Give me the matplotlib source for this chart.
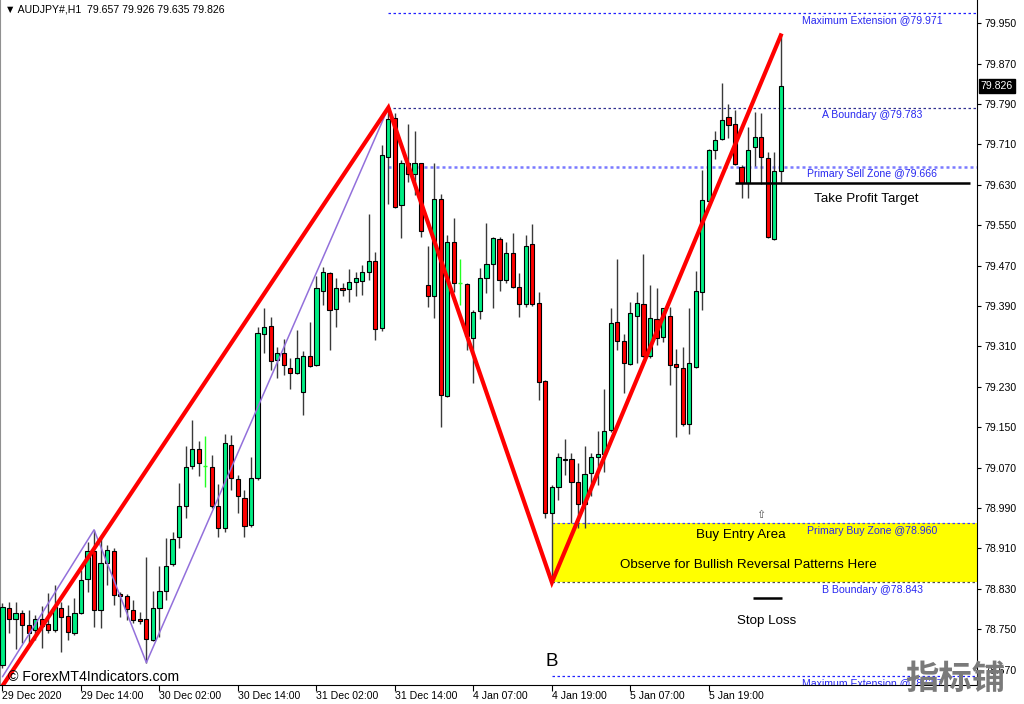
import matplotlib
matplotlib.use("Agg")
import matplotlib.pyplot as plt
from matplotlib.patches import Rectangle
import numpy as np

# ---- AUDJPY H1 candles (index = bar number) ----
opens = [78.679, 78.793, 78.771, 78.783, 78.758, 78.749, 78.771, 78.760, 78.749, 78.793,
         78.776, 78.742, 78.783, 78.849, 78.906, 78.788, 78.881, 78.905, 78.820, 78.816,
         78.788, 78.770, 78.770, 78.729, 78.792, 78.826, 78.879, 78.932, 78.994, 79.073,
         79.108, 79.073, 79.071, 78.994, 78.950, 79.115, 79.047, 79.009, 78.957, 79.049,
         79.335, 79.351, 79.283, 79.297, 79.268, 79.257, 79.219, 79.292, 79.273, 79.420,
         79.456, 79.384, 79.425, 79.423, 79.438, 79.440, 79.457, 79.480, 79.346, 79.685,
         79.762, 79.590, 79.674, 79.652, 79.673, 79.432, 79.410, 79.603, 79.212, 79.516,
         79.436, 79.434, 79.326, 79.380, 79.445, 79.473, 79.522, 79.442, 79.496, 79.427,
         79.394, 79.512, 79.396, 79.242, 78.980, 79.031, 79.086, 79.087, 79.042, 78.998,
         79.059, 79.092, 79.098, 79.145, 79.358, 79.321, 79.275, 79.371, 79.394, 79.291,
         79.364, 79.329, 79.370, 79.275, 79.267, 79.157, 79.270, 79.418, 79.599, 79.699,
         79.720, 79.765, 79.750, 79.665, 79.634, 79.706, 79.724, 79.683, 79.522, 79.657]
highs = [78.802, 78.805, 78.804, 78.789, 78.789, 78.778, 78.796, 78.822, 78.838, 78.805,
         78.798, 78.811, 78.867, 78.923, 78.947, 78.937, 78.917, 78.911, 78.824, 78.820,
         78.808, 78.785, 78.893, 78.826, 78.875, 78.930, 78.943, 79.039, 79.112, 79.164,
         79.123, 79.133, 79.095, 79.038, 79.137, 79.135, 79.056, 79.026, 79.092, 79.349,
         79.386, 79.368, 79.308, 79.324, 79.287, 79.343, 79.302, 79.359, 79.450, 79.468,
         79.458, 79.446, 79.436, 79.463, 79.457, 79.471, 79.572, 79.497, 79.709, 79.783,
         79.772, 79.679, 79.751, 79.737, 79.674, 79.509, 79.673, 79.611, 79.531, 79.564,
         79.483, 79.436, 79.382, 79.466, 79.554, 79.527, 79.527, 79.516, 79.534, 79.456,
         79.531, 79.552, 79.418, 79.244, 79.036, 79.100, 79.126, 79.099, 79.080, 79.112,
         79.099, 79.143, 79.225, 79.386, 79.483, 79.335, 79.399, 79.417, 79.493, 79.432,
         79.425, 79.387, 79.389, 79.306, 79.308, 79.386, 79.460, 79.659, 79.702, 79.737,
         79.831, 79.790, 79.778, 79.669, 79.745, 79.775, 79.772, 79.696, 79.696, 79.926]
lows = [78.673, 78.743, 78.710, 78.722, 78.723, 78.729, 78.713, 78.743, 78.745, 78.706,
        78.729, 78.739, 78.780, 78.824, 78.755, 78.752, 78.838, 78.798, 78.775, 78.768,
        78.762, 78.760, 78.684, 78.726, 78.735, 78.808, 78.875, 78.910, 78.970, 79.067,
        79.054, 79.032, 78.990, 78.933, 78.943, 79.026, 78.981, 78.933, 78.952, 79.046,
        79.297, 79.263, 79.247, 79.254, 79.225, 79.256, 79.174, 79.270, 79.272, 79.392,
        79.304, 79.349, 79.409, 79.399, 79.410, 79.412, 79.442, 79.323, 79.341, 79.592,
        79.584, 79.524, 79.636, 79.610, 79.527, 79.388, 79.366, 79.151, 79.210, 79.418,
        79.392, 79.303, 79.237, 79.364, 79.415, 79.386, 79.420, 79.436, 79.425, 79.369,
        79.388, 79.390, 79.204, 78.970, 78.843, 79.006, 79.056, 78.960, 78.951, 78.950,
        79.013, 79.036, 79.062, 79.141, 79.304, 79.217, 79.273, 79.277, 79.289, 79.287,
        79.313, 79.319, 79.234, 79.131, 79.153, 79.137, 79.267, 79.382, 79.597, 79.681,
        79.719, 79.722, 79.669, 79.605, 79.605, 79.667, 79.632, 79.525, 79.521, 79.635]
closes = [78.794, 78.771, 78.783, 78.758, 78.742, 78.771, 78.757, 78.749, 78.794, 78.775,
          78.744, 78.783, 78.848, 78.906, 78.788, 78.881, 78.907, 78.818, 78.816, 78.790,
          78.768, 78.766, 78.730, 78.793, 78.826, 78.876, 78.928, 78.994, 79.072, 79.108,
          79.079, 79.073, 78.994, 78.950, 79.118, 79.049, 79.013, 78.955, 79.049, 79.337,
          79.349, 79.281, 79.297, 79.273, 79.258, 79.287, 79.292, 79.272, 79.425, 79.458,
          79.382, 79.425, 79.422, 79.438, 79.445, 79.458, 79.480, 79.344, 79.689, 79.760,
          79.587, 79.673, 79.652, 79.673, 79.539, 79.410, 79.603, 79.214, 79.516, 79.436,
          79.436, 79.331, 79.378, 79.445, 79.473, 79.524, 79.442, 79.495, 79.428, 79.394,
          79.508, 79.394, 79.240, 78.980, 79.031, 79.092, 79.088, 79.042, 78.998, 79.058,
          79.091, 79.098, 79.143, 79.356, 79.321, 79.277, 79.376, 79.397, 79.291, 79.367,
          79.326, 79.386, 79.273, 79.270, 79.157, 79.277, 79.420, 79.600, 79.699, 79.719,
          79.758, 79.749, 79.671, 79.634, 79.700, 79.725, 79.686, 79.526, 79.658, 79.826]

time_ticks = [0, 12, 24, 36, 48, 60, 72, 84, 96, 108]
time_labels = ["29 Dec 2020", "29 Dec 14:00", "30 Dec 02:00", "30 Dec 14:00",
               "31 Dec 02:00", "31 Dec 14:00", "4 Jan 07:00", "4 Jan 19:00",
               "5 Jan 07:00", "5 Jan 19:00"]
price_ticks = [78.670, 78.750, 78.830, 78.910, 78.990, 79.070, 79.150, 79.230,
               79.310, 79.390, 79.470, 79.550, 79.630, 79.710, 79.790, 79.870, 79.950]

# XAB swing legs
main_leg_x = [0, 59, 84, 119]
main_leg_y = [78.638, 79.783, 78.843, 79.926]
minor_leg_x = [0, 14, 22, 59]
minor_leg_y = [78.656, 78.947, 78.684, 79.783]

# Pattern levels
max_ext_top = 79.971
a_boundary = 79.783
sell_zone = 79.666
buy_zone = 78.960
b_boundary = 78.843
max_ext_bottom = 78.657
take_profit = 79.634
stop_loss = 78.812

UP = "#00EE84"
DOWN = "#FF0000"
LEVEL_FONT = ["Liberation Sans", "DejaVu Sans"]

fig = plt.figure(figsize=(10.24, 7.04), dpi=100)
fig.patch.set_facecolor("white")
ax = fig.add_axes([0, 19 / 704, 977 / 1024, 685 / 704])
ax.set_xlim(-0.38, 149.0)
ax.set_ylim(78.6397, 79.9961)

# candles
body_w = 0.64
for i, (o, h, l, c) in enumerate(zip(opens, highs, lows, closes)):
    if o == c:
        ax.vlines(i, l, h, color="#22FF22", lw=1.0, zorder=3)
        ax.hlines(o, i - 0.3, i + 0.3, color="#22FF22", lw=1.0, zorder=3)
        continue
    ax.vlines(i, l, h, color="#3a3a3a", lw=1.0, zorder=2)
    fc = UP if c > o else DOWN
    ax.add_patch(Rectangle((i - body_w / 2, min(o, c)), body_w, abs(c - o),
                           facecolor=fc, edgecolor="black", lw=0.8, zorder=3))

# buy zone box
ax.add_patch(Rectangle((84, b_boundary), 200, buy_zone - b_boundary,
                       facecolor="#FFFF00", edgecolor="none", zorder=1))

# level lines
xr = 160
ax.hlines(max_ext_top, 59, xr, color="#2020FF", lw=0.9, ls=(0, (2, 2)), zorder=1.5)
ax.hlines(a_boundary, 59, xr, color="#303090", lw=0.9, ls=(0, (2, 2)), zorder=1.5)
ax.hlines(sell_zone, 59, xr, color="#7A7AFF", lw=1.8, ls=(0, (1.2, 1.2)), zorder=1.5)
ax.hlines(buy_zone, 84, xr, color="#4040FF", lw=0.9, ls=(0, (2, 2)), zorder=1.5)
ax.hlines(b_boundary, 84, xr, color="#505050", lw=0.9, ls=(0, (2, 2)), zorder=1.5)
ax.hlines(max_ext_bottom, 84, xr, color="#2020FF", lw=0.9, ls=(0, (2, 2)), zorder=1.5)

lbl_x = 133
level_labels = [
    (max_ext_top, "Maximum Extension @%.3f" % max_ext_top),
    (a_boundary, "A Boundary @%.3f" % a_boundary),
    (sell_zone, "Primary Sell Zone @%.3f" % sell_zone),
    (buy_zone, "Primary Buy Zone @%.3f" % buy_zone),
    (b_boundary, "B Boundary @%.3f" % b_boundary),
    (max_ext_bottom, "Maximum Extension @%.3f" % max_ext_bottom),
]
for lvl, txt in level_labels:
    ax.text(lbl_x, lvl - 0.0045, txt, ha="center", va="top", fontsize=7.6,
            color="#2828F0", family=LEVEL_FONT, zorder=4, clip_on=True)

# swing legs
ax.plot(minor_leg_x, minor_leg_y, color="#9370DB", lw=1.1, zorder=4, solid_capstyle="round")
ax.plot(main_leg_x, main_leg_y, color="#FF0000", lw=3.0, zorder=5, solid_joinstyle="miter")

# targets
ax.hlines(take_profit, 112, 148, color="black", lw=1.8, zorder=6)
ax.hlines(stop_loss, 114.7, 119.2, color="black", lw=1.8, zorder=6)

ax.text(132, 79.602, "Take Profit Target", ha="center", va="center",
        fontsize=9.6, family=LEVEL_FONT, zorder=6)
ax.text(112.9, 78.936, "Buy Entry Area", ha="center", va="center",
        fontsize=9.6, family=LEVEL_FONT, zorder=6)
ax.text(114.0, 78.877, "Observe for Bullish Reversal Patterns Here", ha="center",
        va="center", fontsize=9.6, family=LEVEL_FONT, zorder=6)
ax.text(116.9, 78.766, "Stop Loss", ha="center", va="center",
        fontsize=9.6, family=LEVEL_FONT, zorder=6)
ax.text(116.0, 78.976, "\u21e7", ha="center", va="center", fontsize=8,
        color="#555555", family=["DejaVu Sans"], zorder=6)
ax.text(84, 78.686, "B", ha="center", va="center", fontsize=13.5,
        family=LEVEL_FONT, zorder=6)
ax.text(0.9, 78.656, "\u00a9 ForexMT4Indicators.com", ha="left", va="center",
        fontsize=10.2, family=LEVEL_FONT, zorder=6)

# axes styling
ax.spines["top"].set_visible(False)
ax.spines["left"].set_color("#909090")
ax.spines["right"].set_color("black")
ax.spines["bottom"].set_color("black")
ax.yaxis.tick_right()
ax.set_yticks(price_ticks)
ax.set_yticklabels(["%.3f" % v for v in price_ticks])
ax.set_xticks(time_ticks)
ax.set_xticklabels(time_labels)
for t in ax.get_xticklabels():
    t.set_ha("left")
ax.tick_params(axis="y", which="both", direction="out", length=3, width=0.8,
               pad=2.5, labelsize=7.6, colors="black")
ax.tick_params(axis="x", which="both", direction="out", length=4, width=0.8,
               pad=0.5, labelsize=7.6, colors="black")
for t in ax.get_xticklabels() + ax.get_yticklabels():
    t.set_family(LEVEL_FONT)

# last price marker
ax.text(1.004, closes[-1], "%.3f" % closes[-1], transform=ax.get_yaxis_transform(),
        ha="left", va="center", fontsize=7.6, color="white", family=LEVEL_FONT,
        bbox=dict(boxstyle="square,pad=0.22", fc="black", ec="black"), zorder=7,
        clip_on=False)

# symbol header
fig.text(5 / 1024, 1 - 10 / 704,
         "\u25bc AUDJPY#,H1  %.3f %.3f %.3f %.3f" % (opens[-1], highs[-1], lows[-1], closes[-1]),
         ha="left", va="center", fontsize=7.6, family=LEVEL_FONT)

# site mark, drawn over the lower right corner of the price scale
fig.text(955 / 1024, 1 - 679 / 704, "指标铺", ha="center", va="center", fontsize=24,
         color="#7a7a7a", fontweight="heavy",
         family=["Noto Sans CJK SC", "DejaVu Sans"], zorder=10)

fig.savefig("out.png", dpi=100, facecolor="white")
